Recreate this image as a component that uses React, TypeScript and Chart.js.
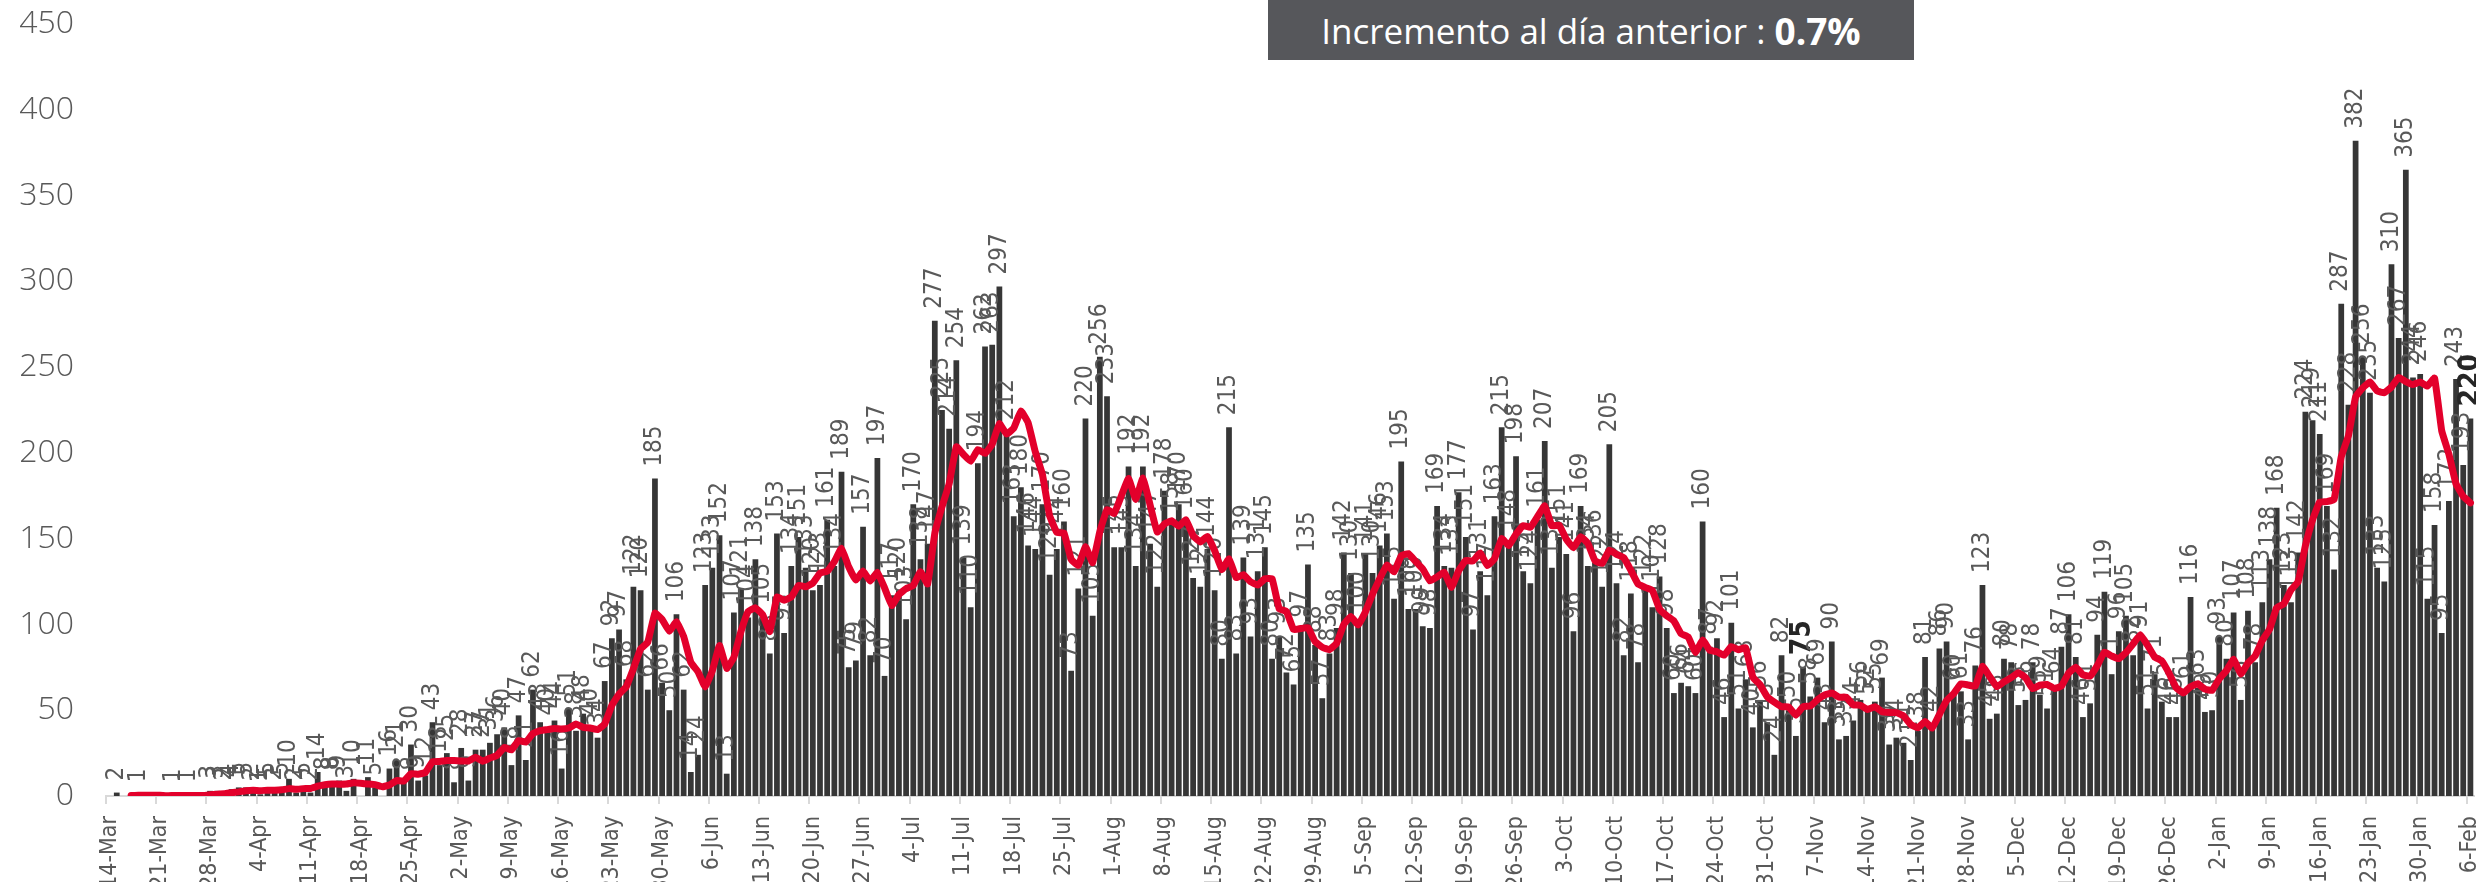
import React, { useEffect, useRef } from 'react';
import { Chart, registerables } from 'chart.js';

Chart.register(...registerables);

// ---- data -------------------------------------------------------------
const START_YEAR = 2020;
const START_MONTH = 2; // March (0-based)
const START_DAY = 14;
const MONTH_NAMES = ['Jan', 'Feb', 'Mar', 'Apr', 'May', 'Jun', 'Jul', 'Aug', 'Sep', 'Oct', 'Nov', 'Dec'];

// daily new cases, 14-Mar-2020 .. 6-Feb-2021 (null = no report)
const DAILY_CASES: (number | null)[] = [
  null, 2, null, null, 1, null, null, null, null, 1,
  null, 1, null, null, 3, 3, 2, 4, 5, 5,
  2, 1, 5, 2, 5, 10, 2, 5, 2, 14,
  8, 8, 9, 3, 10, null, 11, 5, null, 16,
  21, 8, 30, 9, 12, 43, 18, 25, 8, 28,
  9, 27, 27, 31, 36, 40, 18, 47, 21, 62,
  43, 40, 44, 16, 51, 38, 48, 40, 34, 67,
  92, 97, 68, 122, 120, 62, 185, 66, 50, 106,
  62, 14, 24, 123, 133, 152, 13, 107, 121, 104,
  138, 105, 83, 153, 95, 134, 151, 133, 120, 123,
  161, 134, 189, 75, 79, 157, 82, 197, 70, 117,
  120, 103, 170, 138, 147, 277, 225, 214, 254, 139,
  110, 194, 262, 263, 297, 212, 163, 180, 146, 144,
  170, 129, 144, 160, 73, 121, 220, 105, 256, 233,
  145, 145, 192, 134, 192, 147, 122, 178, 158, 170,
  160, 127, 122, 144, 120, 80, 215, 83, 139, 93,
  131, 145, 80, 93, 72, 65, 97, 135, 88, 57,
  83, 98, 142, 130, 100, 141, 130, 146, 153, 115,
  195, 109, 109, 99, 98, 169, 134, 133, 177, 151,
  97, 131, 117, 163, 215, 148, 198, 131, 124, 161,
  207, 133, 151, 141, 96, 169, 134, 136, 122, 205,
  124, 82, 118, 78, 122, 110, 128, 98, 60, 66,
  64, 60, 160, 87, 92, 46, 101, 51, 68, 40,
  56, 43, 24, 82, 50, 35, 75, 58, 69, 43,
  90, 33, 35, 44, 56, 52, 55, 69, 30, 34,
  31, 21, 38, 81, 42, 86, 90, 60, 61, 33,
  76, 123, 45, 48, 80, 78, 53, 56, 78, 59,
  51, 64, 87, 106, 81, 46, 54, 94, 119, 71,
  96, 105, 82, 91, 51, 71, 55, 46, 46, 61,
  116, 63, 49, 50, 93, 80, 107, 56, 108, 78,
  113, 138, 168, 123, 113, 142, 224, 219, 211, 169,
  132, 287, 228, 382, 256, 235, 133, 125, 310, 267,
  365, 244, 246, 115, 158, 95, 172, 243, 193, 220,
];

// red line (7-day average as drawn)
const AVG_LINE: (number | null)[] = [
  null, null, null, 0.3, 0.4, 0.4, 0.4, 0.4, 0.1, 0.3,
  0.3, 0.3, 0.3, 0.3, 0.7, 1.1, 1.3, 1.9, 2.4, 3.1,
  3.4, 3.1, 3.4, 3.4, 3.6, 4.3, 3.9, 4.3, 4.4, 5.7,
  6.6, 7.0, 6.9, 7.0, 7.7, 7.4, 7.0, 6.6, 5.4, 6.4,
  9.0, 8.7, 13.0, 12.7, 13.7, 19.9, 20.1, 20.7, 20.7, 20.4,
  20.4, 22.6, 20.3, 22.1, 23.7, 28.3, 26.9, 32.3, 31.4, 36.4,
  38.1, 38.7, 39.3, 39.0, 39.6, 42.0, 40.0, 39.6, 38.7, 42.0,
  52.9, 59.4, 63.7, 74.3, 85.7, 89.7, 106.6, 102.9, 96.1, 101.6,
  93.0, 77.9, 72.4, 63.6, 73.1, 87.7, 74.4, 80.9, 96.1, 107.6,
  109.7, 105.7, 95.9, 115.9, 114.1, 116.0, 122.7, 122.0, 124.1, 129.9,
  131.0, 136.6, 144.4, 133.6, 125.9, 131.1, 125.3, 130.4, 121.3, 111.0,
  117.4, 120.9, 122.7, 130.7, 123.6, 153.1, 168.6, 182.0, 203.6, 199.1,
  195.1, 201.9, 199.7, 205.1, 217.0, 211.0, 214.4, 224.4, 217.6, 200.7,
  187.4, 163.4, 153.7, 153.3, 138.0, 134.4, 145.3, 136.0, 154.1, 166.9,
  164.7, 175.0, 185.1, 172.9, 185.3, 169.7, 153.9, 158.6, 160.4, 157.3,
  161.0, 151.7, 148.1, 151.3, 143.0, 131.9, 138.3, 127.3, 129.0, 124.9,
  123.0, 126.6, 126.6, 109.1, 107.6, 97.0, 97.6, 98.1, 90.0, 86.7,
  85.3, 89.0, 100.0, 104.7, 99.7, 107.3, 117.7, 126.7, 134.6, 130.7,
  140.0, 141.3, 136.7, 132.3, 125.4, 127.7, 130.4, 121.6, 131.3, 137.3,
  137.0, 141.7, 134.3, 138.4, 150.1, 146.0, 152.7, 157.6, 156.6, 162.9,
  169.1, 157.4, 157.9, 149.7, 144.7, 151.1, 147.3, 137.1, 135.6, 143.3,
  140.9, 138.9, 131.6, 123.6, 121.6, 119.9, 108.9, 105.1, 102.0, 94.6,
  92.6, 83.7, 90.9, 85.0, 84.1, 82.1, 87.1, 85.3, 86.4, 69.3,
  64.9, 57.9, 54.7, 52.0, 51.9, 47.1, 52.1, 52.4, 56.1, 58.9,
  60.0, 57.6, 57.6, 53.1, 52.9, 50.4, 52.1, 49.1, 48.7, 48.6,
  46.7, 41.7, 39.7, 43.4, 39.6, 47.6, 55.6, 59.7, 65.4, 64.7,
  64.0, 75.6, 69.7, 63.7, 66.6, 69.0, 71.9, 69.0, 62.6, 64.6,
  65.0, 62.7, 64.0, 71.6, 75.1, 70.6, 69.9, 76.0, 83.9, 81.6,
  80.1, 83.6, 88.7, 94.0, 87.9, 81.0, 78.7, 71.6, 63.1, 60.1,
  63.7, 65.4, 62.3, 61.6, 68.3, 73.1, 79.7, 71.1, 77.6, 81.7,
  90.7, 97.1, 109.7, 112.0, 120.1, 125.0, 145.9, 161.0, 171.4, 171.6,
  172.9, 197.7, 210.0, 232.6, 237.9, 241.3, 236.1, 235.1, 238.4, 244.0,
  241.6, 239.9, 241.4, 238.9, 243.6, 212.9, 199.3, 181.9, 174.6, 170.9,
];

const BOLD_LABEL_INDEXES = [236, 329];
const Y_MIN = 0;
const Y_MAX = 450;
const Y_STEP = 50;
const TICK_EVERY = 7;
const TITLE_TEXT = 'Incremento al día anterior : ';
const TITLE_VALUE = '0.7%';

// date category labels "14-Mar", "15-Mar", ...
const DATE_LABELS: string[] = DAILY_CASES.map((_, i) => {
  const d = new Date(Date.UTC(START_YEAR, START_MONTH, START_DAY + i));
  return `${d.getUTCDate()}-${MONTH_NAMES[d.getUTCMonth()]}`;
});

const NARROW = "'Liberation Sans Narrow', 'DejaVu Sans Condensed', Roboto, sans-serif";

const barLabelsPlugin = {
  id: 'barLabels',
  afterDatasetDraw(chart: any, args: any) {
    if (args.index !== 0) return;
    const ctx = chart.ctx;
    const meta = args.meta;
    meta.data.forEach((el: any, i: number) => {
      const v = DAILY_CASES[i];
      if (v == null) return;
      const bold = BOLD_LABEL_INDEXES.includes(i);
      ctx.save();
      ctx.font = `${bold ? 'bold 28px' : '24px'} ${NARROW}`;
      ctx.fillStyle = bold ? '#262626' : '#595959';
      ctx.translate(el.x, el.y - 12);
      ctx.rotate(-Math.PI / 2);
      ctx.textAlign = 'left';
      ctx.textBaseline = 'middle';
      ctx.fillText(String(v), 0, 0);
      ctx.restore();
    });
  },
};

export default function App() {
  const canvasRef = useRef<HTMLCanvasElement | null>(null);

  useEffect(() => {
    const canvas = canvasRef.current;
    if (!canvas) return;
    const chart = new Chart(canvas, {
      type: 'bar',
      data: {
        labels: DATE_LABELS,
        datasets: [
          {
            type: 'bar',
            data: DAILY_CASES as any,
            backgroundColor: '#363636',
            barPercentage: 0.8,
            categoryPercentage: 1,
            order: 2,
          },
          {
            type: 'line',
            data: AVG_LINE as any,
            borderColor: '#E3002B',
            borderWidth: 7,
            pointRadius: 0,
            tension: 0.1,
            borderJoinStyle: 'round',
            borderCapStyle: 'round',
            fill: false,
            order: 1,
          },
        ],
      },
      options: {
        responsive: false,
        animation: false,
        layout: { padding: { left: 0, right: 2, top: 0, bottom: 0 } },
        plugins: {
          legend: { display: false },
          tooltip: { enabled: false },
        },
        scales: {
          x: {
            offset: true,
            grid: {
              offset: true,
              display: true,
              drawOnChartArea: false,
              drawTicks: true,
              tickLength: 8,
              lineWidth: 2,
              color: (c: any) => (c.index % TICK_EVERY === 0 ? '#D9D9D9' : 'rgba(0,0,0,0)'),
            },
            border: { display: true, color: '#D9D9D9', width: 2 },
            ticks: {
              autoSkip: false,
              minRotation: 90,
              maxRotation: 90,
              padding: 12,
              color: '#595959',
              font: { family: NARROW, size: 23 },
              callback: (_v: any, i: number) => (i % TICK_EVERY === 0 ? DATE_LABELS[i] : ''),
            },
            afterFit: (s: any) => {
              s.height = 86;
              s.paddingLeft = 0;
              s.paddingRight = 0;
            },
          },
          y: {
            min: Y_MIN,
            max: Y_MAX,
            grid: { display: false, drawTicks: false },
            border: { display: false },
            ticks: {
              stepSize: Y_STEP,
              padding: 32,
              color: '#595959',
              font: { family: "'Open Sans', sans-serif", size: 32, weight: '300' },
            },
            afterFit: (s: any) => {
              s.width = 106;
              s.paddingTop = 24;
              s.paddingBottom = 0;
            },
          },
        },
      },
      plugins: [barLabelsPlugin],
    });
    return () => chart.destroy();
  }, []);

  return (
    <div style={{ position: 'absolute', left: 0, top: 0, width: 2476, height: 882, background: '#fff', overflow: 'hidden' }}>
      <canvas ref={canvasRef} width={2476} height={882} style={{ display: 'block' }} />
      <div
        style={{
          position: 'absolute',
          left: 1268,
          top: 0,
          width: 646,
          height: 60,
          background: '#56575B',
          color: '#FFFFFF',
          fontFamily: "'Open Sans', sans-serif",
          fontSize: 35,
          display: 'flex',
          alignItems: 'center',
          justifyContent: 'center',
          whiteSpace: 'pre',
        }}
      >
        <span>{TITLE_TEXT}</span>
        <span style={{ fontWeight: 700, fontSize: 37 }}>{TITLE_VALUE}</span>
      </div>
    </div>
  );
}
